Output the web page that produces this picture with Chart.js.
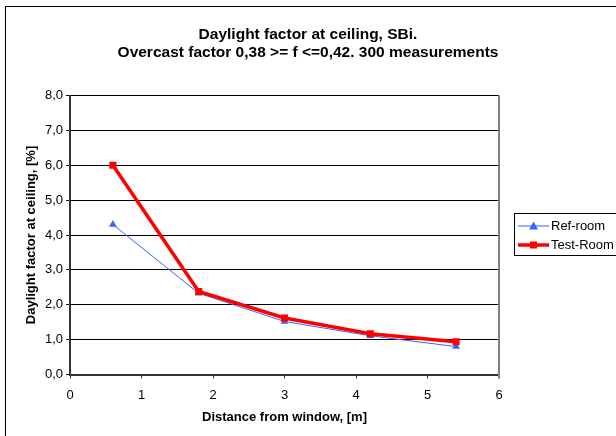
<!DOCTYPE html>
<html><head><meta charset="utf-8">
<script src="https://cdn.jsdelivr.net/npm/chart.js@4/dist/chart.umd.min.js"></script>
<style>html,body{margin:0;padding:0;background:#fff;overflow:hidden}#wrap{width:616px;height:436px}</style>
</head><body><div id="wrap"><canvas id="c" width="616" height="436"></canvas></div>
<script>
const distances = [0.6, 1.8, 3.0, 4.2, 5.4];
const refRoom = [4.3, 2.33, 1.52, 1.11, 0.80];
const testRoom = [6.0, 2.38, 1.62, 1.17, 0.94];
const seriesNames = ['Ref-room', 'Test-Room'];
const titleLines = ['Daylight factor at ceiling, SBi.', 'Overcast factor 0,38 >= f <=0,42. 300 measurements'];
const xTitle = 'Distance from window, [m]';
const yTitle = 'Daylight factor at ceiling, [%]';

const FONT = '"Liberation Sans", Arial, sans-serif';

const deco = {
  id: 'deco',
  beforeDraw(chart) {
    const ctx = chart.ctx;
    ctx.save();
    ctx.fillStyle = '#fff';
    ctx.fillRect(0, 0, chart.width, chart.height);
    ctx.strokeStyle = '#000';
    ctx.lineWidth = 1;
    ctx.strokeRect(5.5, 6.5, 700, 500);
    ctx.restore();
  },
  afterDraw(chart) {
    const ctx = chart.ctx;
    const a = chart.chartArea;
    ctx.save();
    ctx.fillStyle = '#000';
    ctx.textAlign = 'center';
    ctx.textBaseline = 'middle';
    ctx.font = 'bold 15.5px ' + FONT;
    ctx.fillText(titleLines[0], 308, 35);
    ctx.fillText(titleLines[1], 308, 53);
    ctx.font = 'bold 13px ' + FONT;
    ctx.fillText(xTitle, (a.left + a.right) / 2, 417);
    ctx.save();
    ctx.translate(31, (a.top + a.bottom) / 2);
    ctx.rotate(-Math.PI / 2);
    ctx.fillText(yTitle, 0, 0);
    ctx.restore();
    // legend
    ctx.strokeStyle = '#000';
    ctx.lineWidth = 1;
    ctx.strokeRect(514.5, 213.5, 200, 42);
    ctx.font = '13px ' + FONT;
    ctx.textAlign = 'left';
    const ys = [226, 245];
    chart.data.datasets.forEach((ds, i) => {
      const y = ys[i];
      ctx.strokeStyle = ds.borderColor;
      ctx.lineWidth = ds.borderWidth;
      ctx.beginPath(); ctx.moveTo(518, y); ctx.lineTo(549, y); ctx.stroke();
      ctx.fillStyle = ds.pointBackgroundColor;
      if (ds.pointStyle === 'triangle') {
        ctx.beginPath(); ctx.moveTo(533.5, y - 4.5); ctx.lineTo(538, y + 3.5); ctx.lineTo(529, y + 3.5); ctx.closePath(); ctx.fill();
      } else {
        ctx.fillRect(530, y - 3.5, 7, 7);
      }
      ctx.fillStyle = '#000';
      ctx.fillText(ds.label, 551, y + 0.5);
    });
    // plot frame right edge
    ctx.strokeStyle = '#808080';
    ctx.lineWidth = 2;
    ctx.beginPath(); ctx.moveTo(a.right, a.top); ctx.lineTo(a.right, a.bottom + 4); ctx.stroke();
    ctx.restore();
  }
};

new Chart(document.getElementById('c'), {
  type: 'line',
  data: {
    datasets: [
      {
        label: seriesNames[0],
        data: distances.map((x, i) => ({ x, y: refRoom[i] })),
        borderColor: '#3366FF', backgroundColor: '#3366FF',
        pointBackgroundColor: '#3366FF', pointBorderColor: '#3366FF',
        borderWidth: 1, pointStyle: 'triangle', pointRadius: 4.5, pointBorderWidth: 0,
        tension: 0, order: 1
      },
      {
        label: seriesNames[1],
        data: distances.map((x, i) => ({ x, y: testRoom[i] })),
        borderColor: '#FF0000', backgroundColor: '#FF0000',
        pointBackgroundColor: '#FF0000', pointBorderColor: '#FF0000',
        borderWidth: 3.5, pointStyle: 'rect', pointRadius: 5, pointBorderWidth: 0,
        tension: 0, order: 0
      }
    ]
  },
  options: {
    responsive: false, animation: false, devicePixelRatio: 1,
    layout: { padding: { left: 0, top: 95.5, right: 117, bottom: 0 } },
    plugins: { legend: { display: false }, title: { display: false }, tooltip: { enabled: false } },
    scales: {
      x: {
        type: 'linear', min: 0, max: 6,
        afterFit(s) { s.height = 61.5; },
        ticks: { stepSize: 1, color: '#000', font: { family: FONT, size: 13 }, padding: 9, maxRotation: 0 },
        grid: { drawOnChartArea: false, drawTicks: true, tickLength: 4, color: '#333', tickWidth: 1 },
        border: { display: true, color: '#333', width: 2 }
      },
      y: {
        min: 0, max: 8,
        afterFit(s) { s.width = 70; },
        ticks: { stepSize: 1, color: '#000', font: { family: FONT, size: 13 }, padding: 3,
          callback: v => v.toFixed(1).replace('.', ',') },
        grid: { color: '#000', lineWidth: 1, drawTicks: true, tickLength: 4 },
        border: { display: true, color: '#333', width: 2 }
      }
    }
  },
  plugins: [deco]
});
</script></body></html>
